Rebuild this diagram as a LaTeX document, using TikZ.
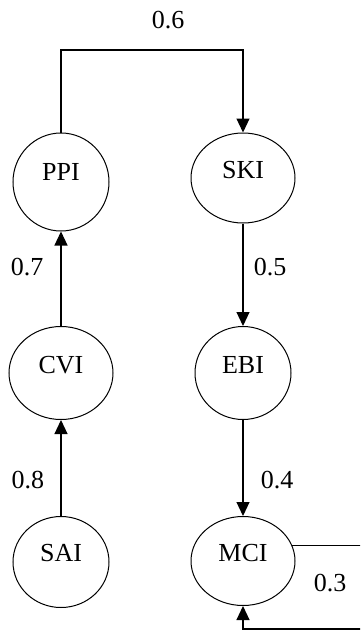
\documentclass[tikz,border=0pt]{standalone}
\usepackage{fontspec}
\setmainfont{Liberation Serif}
\usetikzlibrary{shapes.geometric,arrows.meta}
\begin{document}
\begin{tikzpicture}[x=1pt,y=-1pt,
  state/.style={draw,ellipse,line width=1pt,inner sep=0pt},
  conn/.style={line width=1.1pt,-{Triangle[length=14pt,width=13pt]}},
  wt/.style={font=\fontsize{26}{30}\selectfont,inner sep=0pt},
  every label/.style={font=\fontsize{26}{30}\selectfont,inner sep=0pt}]
\useasboundingbox (0,0) rectangle (360,632);
\clip (0,0) rectangle (360,632);
\node[state,minimum width=96pt,minimum height=98pt,label={[yshift=10pt]center:PPI}] (PPI) at (61,182) {};
\node[state,minimum width=104pt,minimum height=90pt,label={[yshift=8pt]center:SKI}] (SKI) at (243,178) {};
\node[state,minimum width=104pt,minimum height=93pt,label={[yshift=8pt]center:CVI}] (CVI) at (61,373) {};
\node[state,minimum width=96pt,minimum height=93pt,label={[yshift=8pt]center:EBI}] (EBI) at (243,373) {};
\node[state,minimum width=96pt,minimum height=91pt,label={[yshift=9pt]center:SAI}] (SAI) at (61,562) {};
\node[state,minimum width=104pt,minimum height=89pt,label={[yshift=8pt]center:MCI}] (MCI) at (243,561) {};
\coordinate (top) at (152,50);
\coordinate (lr) at (368,629);
\draw[conn] (PPI.north) |- (top) -| (SKI.north);
\draw[conn] (CVI.north) -- (PPI.south);
\draw[conn] (SAI.north) -- (CVI.south);
\draw[conn] (SKI.south) -- (EBI.north);
\draw[conn] (EBI.south) -- (MCI.north);
\draw[conn] (MCI.17) -| (lr) -| (MCI.south);
\node[wt] (w6) at (168,20) {0.6};
\node[wt] (w7) at (27,267) {0.7};
\node[wt] (w8) at (28,480) {0.8};
\node[wt] (w5) at (270,267) {0.5};
\node[wt] (w4) at (277,480) {0.4};
\node[wt] (w3) at (330,583) {0.3};
\end{tikzpicture}
\end{document}
